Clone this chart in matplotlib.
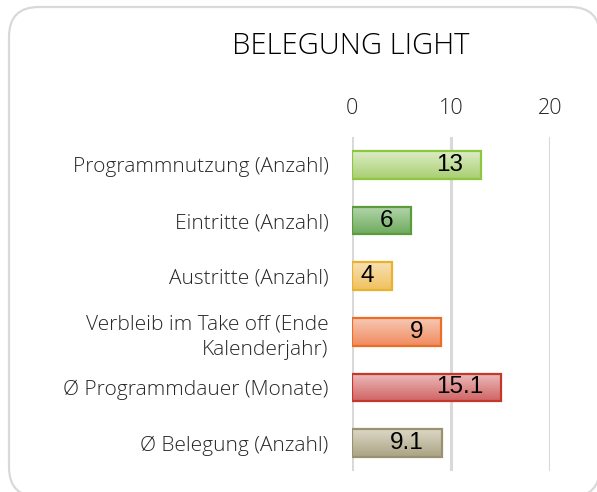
import matplotlib.pyplot as plt
import numpy as np
from matplotlib.patches import FancyBboxPatch
from matplotlib.colors import LinearSegmentedColormap

categories = ['Programmnutzung (Anzahl)', 'Eintritte (Anzahl)', 'Austritte (Anzahl)',
              'Verbleib im Take off (Ende\nKalenderjahr)', 'Ø Programmdauer (Monate)',
              'Ø Belegung (Anzahl)']
values = [13, 6, 4, 9, 15.1, 9.1]
value_labels = ['13', '6', '4', '9', '15.1', '9.1']
ticks = [0, 10, 20]

# (top colour, bottom colour, edge colour)
bar_colors = [
    ('#dcecc6', '#a9cf70', '#8dc63f'),
    ('#b4d6ac', '#6fab5e', '#5b9b3e'),
    ('#f6e0b4', '#f0c25e', '#e9b12d'),
    ('#f6c8b2', '#f08b5f', '#ea6d28'),
    ('#ecbcbc', '#d06464', '#c4372b'),
    ('#dcd8c6', '#aaa384', '#9a9170'),
]

label_font = dict(family='Open Sans', weight='light')

fig = plt.figure(figsize=(5.97, 4.92), dpi=100)
ax = fig.add_axes([0.5896, 0.0427, 0.9213 - 0.5896, 0.7215 - 0.0427])

# rounded frame
W, H = 597.0, 492.0
frame = FancyBboxPatch((9 / W, -0.01), (600 - 9) / W, (492 - 7) / H + 0.01,
                       boxstyle='round,pad=0,rounding_size=0.05',
                       transform=fig.transFigure, facecolor='white',
                       edgecolor='#d9d9d9', lw=1.6, zorder=-10,
                       mutation_aspect=W / H)
fig.patches.append(frame)

for t in ticks:
    ax.axvline(t, color='#d9d9d9', lw=2.2, zorder=0)

h = 0.5
for i, (v, lab, (ctop, cbot, cedge)) in enumerate(zip(values, value_labels, bar_colors)):
    cmap = LinearSegmentedColormap.from_list('g%d' % i, [ctop, cbot])
    grad = np.linspace(0, 1, 64).reshape(-1, 1)
    im = ax.imshow(grad, cmap=cmap, aspect='auto',
                   extent=(0, v, i + h / 2, i - h / 2), zorder=2)
    bar = ax.barh(i, v, height=h, facecolor='none', edgecolor=cedge, lw=1.6, zorder=3)
    im.set_clip_path(bar.patches[0])
    ax.annotate(lab, (v, i), xytext=(-13, 0), textcoords='offset points',
                ha='right', va='center', fontsize=17.5, family='Liberation Sans',
                color='black', zorder=4)

ax.set_xlim(0, 20)
ax.set_ylim(len(values) - 0.5, -0.5)
ax.patch.set_alpha(0)
ax.set_yticks(range(len(values)))
ax.set_yticklabels(categories, fontsize=15, color='#262626',
                   linespacing=1.4, **label_font)
ax.set_xticks(ticks)
ax.set_xticklabels([str(t) for t in ticks], fontsize=15.5, color='#262626', **label_font)
ax.xaxis.tick_top()
ax.tick_params(length=0, pad=13)
ax.tick_params(axis='y', pad=17)
for s in ax.spines.values():
    s.set_visible(False)

fig.text(0.588, 0.907, 'BELEGUNG LIGHT', ha='center', va='center', fontsize=21,
         color='black', **label_font)

fig.savefig('out.png', dpi=100)
